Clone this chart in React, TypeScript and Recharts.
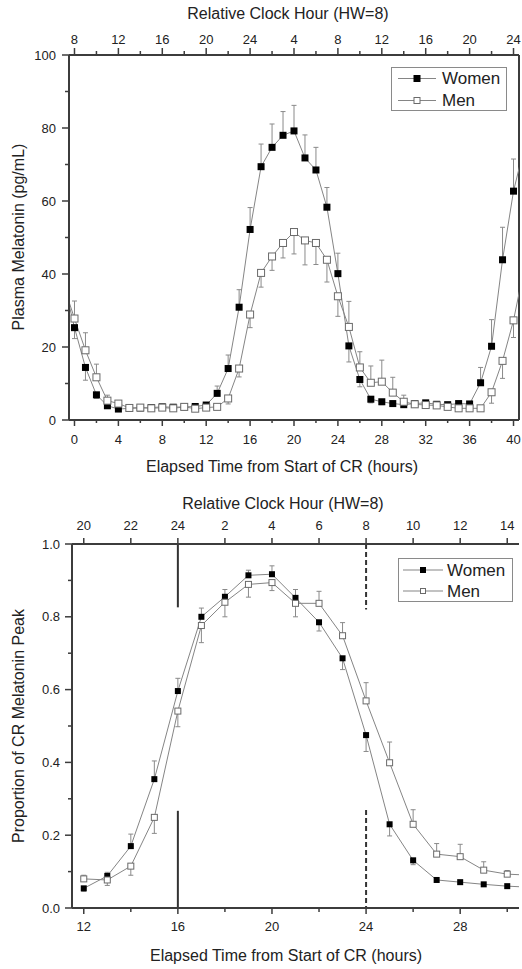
import React from 'react';
import { ComposedChart, Line, XAxis, YAxis, ErrorBar, ReferenceLine, Legend } from 'recharts';

const FONT = '"Liberation Sans", Arial, Helvetica, sans-serif';
const TEXT = '#222';
const AXIS = '#3c3c3c';
const LINE = '#858585';

// ---------- Top panel: plasma melatonin ----------
const elapsedHours = [-1, 0, 1, 2, 3, 4, 5, 6, 7, 8, 9, 10, 11, 12, 13, 14, 15, 16, 17, 18, 19, 20, 21, 22, 23, 24, 25, 26, 27, 28, 29, 30, 31, 32, 33, 34, 35, 36, 37, 38, 39, 40, 41];
const womenMelatonin = [38, 25.3, 14.4, 6.9, 3.9, 3.0, 3.2, 3.3, 3.4, 3.6, 3.5, 3.6, 3.7, 4.1, 7.3, 14.1, 30.9, 52.2, 69.4, 74.7, 78.0, 79.2, 71.8, 68.5, 58.3, 40.1, 20.3, 11.1, 5.7, 5.0, 4.5, 4.2, 4.5, 4.7, 4.3, 4.2, 4.5, 4.4, 10.2, 20.2, 43.9, 62.7, 75];
const menMelatonin = [37, 27.8, 19.1, 11.7, 5.3, 4.5, 3.3, 3.4, 3.2, 3.4, 3.2, 3.6, 3.1, 3.4, 3.6, 5.9, 14.1, 28.9, 40.3, 44.8, 48.5, 51.5, 49.2, 48.5, 43.9, 33.9, 25.5, 14.4, 10.2, 10.5, 7.5, 5.0, 4.3, 4.1, 4.0, 3.6, 3.2, 3.2, 3.2, 7.6, 16.2, 27.3, 42];
const womenMelatoninSem = [0, 3.0, 3.5, 1.0, 0.5, 0.5, 0.4, 0.4, 0.4, 0.4, 0.4, 0.4, 0.4, 0.4, 2.0, 3.7, 4.8, 6.0, 6.2, 6.4, 6.5, 7.0, 6.3, 6.2, 5.4, 5.6, 4.4, 2.0, 1.0, 0.8, 0.6, 0.5, 0.5, 0.5, 0.5, 0.5, 0.5, 0.5, 4.2, 7.3, 8.9, 8.8, 0];
const menMelatoninSem = [0, 4.8, 4.8, 3.6, 1.5, 0.8, 0.4, 0.4, 0.4, 0.4, 0.4, 0.4, 0.4, 0.4, 0.5, 1.5, 2.3, 3.6, 3.9, 3.8, 4.1, 6.0, 6.7, 5.9, 6.1, 5.5, 7.0, 4.3, 4.6, 5.9, 4.2, 1.8, 0.8, 0.5, 0.5, 0.5, 0.5, 0.5, 0.5, 3.0, 4.8, 4.7, 0];
const topElapsedTicks = [0, 2, 4, 6, 8, 10, 12, 14, 16, 18, 20, 22, 24, 26, 28, 30, 32, 34, 36, 38, 40];
const topClockLabels = ['8', '12', '16', '20', '24', '4', '8', '12', '16', '20', '24'];
const melatoninTicks = [0, 10, 20, 30, 40, 50, 60, 70, 80, 90, 100];

// ---------- Bottom panel: proportion of CR melatonin peak ----------
const peakHours = [12, 13, 14, 15, 16, 17, 18, 19, 20, 21, 22, 23, 24, 25, 26, 27, 28, 29, 30, 31];
const womenProportion = [0.054, 0.088, 0.170, 0.354, 0.596, 0.800, 0.855, 0.914, 0.917, 0.852, 0.785, 0.686, 0.475, 0.230, 0.131, 0.077, 0.071, 0.065, 0.060, 0.057];
const menProportion = [0.080, 0.077, 0.115, 0.249, 0.541, 0.776, 0.840, 0.889, 0.894, 0.837, 0.837, 0.748, 0.569, 0.399, 0.230, 0.148, 0.141, 0.104, 0.093, 0.090];
const womenProportionSem = [0.008, 0.010, 0.033, 0.050, 0.035, 0.024, 0.020, 0.014, 0.023, 0.023, 0.024, 0.031, 0.045, 0.032, 0.012, 0.005, 0.005, 0.005, 0.005, 0];
const menProportionSem = [0.010, 0.015, 0.025, 0.044, 0.043, 0.047, 0.040, 0.035, 0.022, 0.037, 0.033, 0.036, 0.050, 0.057, 0.040, 0.029, 0.034, 0.023, 0.010, 0];
const peakElapsedTicks = [12, 14, 16, 18, 20, 22, 24, 26, 28, 30];
const peakClockLabels = ['20', '22', '24', '2', '4', '6', '8', '10', '12', '14'];
const proportionTicks = [0, 0.1, 0.2, 0.3, 0.4, 0.5, 0.6, 0.7, 0.8, 0.9, 1.0];

// error bars are drawn on the outer side of each pair of points
const oneSided = (own: number[], other: number[], err: number[]) =>
  own.map((v, i) => (err[i] === 0 ? null : v >= other[i] ? [0, err[i]] : [err[i], 0]));

const topW = oneSided(womenMelatonin, menMelatonin, womenMelatoninSem);
const topM = oneSided(menMelatonin, womenMelatonin, menMelatoninSem);
const topData = elapsedHours.map((h, i) => ({
  h,
  women: womenMelatonin[i],
  men: menMelatonin[i],
  wErr: topW[i],
  mErr: topM[i],
}));

const botW = oneSided(womenProportion, menProportion, womenProportionSem);
const botM = oneSided(menProportion, womenProportion, menProportionSem);
const bottomData = peakHours.map((h, i) => ({
  h,
  women: womenProportion[i],
  men: menProportion[i],
  wErr: botW[i],
  mErr: botM[i],
}));

// ---------- rendering helpers ----------
const makeXTick = (
  side: 'top' | 'bottom',
  isMajor: (v: number) => boolean,
  label: (v: number) => string,
  majorLen: number,
  minorLen: number,
  gap: number
) => (props: any) => {
  const { x, y, payload } = props;
  const v = payload.value;
  const major = isMajor(v);
  const dir = side === 'top' ? -1 : 1;
  const len = major ? majorLen : minorLen;
  return (
    <g>
      <line x1={x} y1={y} x2={x} y2={y + dir * len} stroke={AXIS} strokeWidth={1.5} />
      {major && (
        <text x={x} y={y + dir * gap} textAnchor="middle" dominantBaseline="central" fontSize={13} fill={TEXT} fontFamily={FONT}>
          {label(v)}
        </text>
      )}
    </g>
  );
};

const makeYTick = (isMajor: (v: number) => boolean, label: (v: number) => string, gap: number) => (props: any) => {
  const { x, y, payload } = props;
  const v = payload.value;
  const major = isMajor(v);
  return (
    <g>
      <line x1={x} y1={y} x2={x - (major ? 7 : 4)} y2={y} stroke={AXIS} strokeWidth={1.5} />
      {major && (
        <text x={x - gap} y={y} textAnchor="end" dominantBaseline="central" fontSize={13} fill={TEXT} fontFamily={FONT}>
          {label(v)}
        </text>
      )}
    </g>
  );
};

const titleText = (x: number, y: number, text: string, rotate = false) => () => (
  <text
    x={x}
    y={y}
    textAnchor="middle"
    dominantBaseline="central"
    fontSize={16}
    fill={TEXT}
    fontFamily={FONT}
    transform={rotate ? `rotate(-90 ${x} ${y})` : undefined}
  >
    {text}
  </text>
);

const filledSquare = (s: number) => (p: any) =>
  p.cx == null ? <g key={`f${p.index}`} /> : (
    <rect key={`f${p.index}`} x={p.cx - s / 2} y={p.cy - s / 2} width={s} height={s} fill="#000" />
  );
const openSquare = (s: number) => (p: any) =>
  p.cx == null ? <g key={`o${p.index}`} /> : (
    <rect key={`o${p.index}`} x={p.cx - s / 2 + 0.5} y={p.cy - s / 2 + 0.5} width={s - 1} height={s - 1} fill="#fff" stroke="#6a6a6a" strokeWidth={1} />
  );

const LegendBox = (o: { w: number; h: number; lx1: number; lx2: number; tx: number; r1: number; r2: number; ms: number }) => (
  <svg width={o.w} height={o.h} style={{ display: 'block' }}>
    <rect x={0.5} y={0.5} width={o.w - 1} height={o.h - 1} fill="#fff" stroke="#8a8a8a" strokeWidth={1} />
    <line x1={o.lx1} y1={o.r1} x2={o.lx2} y2={o.r1} stroke={LINE} strokeWidth={1} />
    <rect x={(o.lx1 + o.lx2) / 2 - o.ms / 2} y={o.r1 - o.ms / 2} width={o.ms} height={o.ms} fill="#000" />
    <text x={o.tx} y={o.r1} dominantBaseline="central" fontSize={17} fill={TEXT} fontFamily={FONT}>Women</text>
    <line x1={o.lx1} y1={o.r2} x2={o.lx2} y2={o.r2} stroke={LINE} strokeWidth={1} />
    <rect x={(o.lx1 + o.lx2) / 2 - o.ms / 2 + 0.5} y={o.r2 - o.ms / 2 + 0.5} width={o.ms - 1} height={o.ms - 1} fill="#fff" stroke="#6a6a6a" />
    <text x={o.tx} y={o.r2} dominantBaseline="central" fontSize={17} fill={TEXT} fontFamily={FONT}>Men</text>
  </svg>
);

export default function App() {
  const axisLine = { stroke: AXIS, strokeWidth: 2 };
  return (
    <div style={{ position: 'absolute', left: 0, top: 0, width: 522, height: 969, background: '#fff', fontFamily: FONT }}>
      <ComposedChart width={522} height={484} data={topData} margin={{ top: 0, right: 3, bottom: 0, left: 0 }}>
        <XAxis
          dataKey="h"
          type="number"
          domain={[-0.5, 40.5]}
          allowDataOverflow
          ticks={topElapsedTicks}
          interval={0}
          height={64}
          axisLine={axisLine}
          tickLine={false}
          tickSize={0}
          tickMargin={0}
          tick={makeXTick('bottom', (v) => v % 4 === 0, (v) => String(v), 6, 3, 19)}
          label={titleText(282, 466, 'Elapsed Time from Start of CR (hours)')}
        />
        <XAxis
          xAxisId="top"
          orientation="top"
          dataKey="h"
          type="number"
          domain={[-0.5, 40.5]}
          allowDataOverflow
          ticks={topElapsedTicks}
          interval={0}
          height={55}
          axisLine={axisLine}
          tickLine={false}
          tickSize={0}
          tickMargin={0}
          tick={makeXTick('top', (v) => v % 4 === 0, (v) => topClockLabels[v / 4], 7, 4, 16)}
          label={titleText(288, 13, 'Relative Clock Hour (HW=8)')}
        />
        <YAxis
          type="number"
          domain={[0, 100]}
          allowDataOverflow
          ticks={melatoninTicks}
          interval={0}
          width={69}
          axisLine={axisLine}
          tickLine={false}
          tickSize={0}
          tickMargin={0}
          tick={makeYTick((v) => v % 20 === 0, (v) => String(v), 13)}
          label={titleText(18, 237, 'Plasma Melatonin (pg/mL)', true)}
        />
        <ReferenceLine x={40.5} stroke={AXIS} strokeWidth={2} ifOverflow="visible" />
        <Line dataKey="women" stroke={LINE} strokeWidth={1} isAnimationActive={false} dot={filledSquare(7)} activeDot={false}>
          <ErrorBar dataKey="wErr" direction="y" width={2.5} stroke="#8a8a8a" strokeWidth={1} isAnimationActive={false} />
        </Line>
        <Line dataKey="men" stroke={LINE} strokeWidth={1} isAnimationActive={false} dot={openSquare(8)} activeDot={false}>
          <ErrorBar dataKey="mErr" direction="y" width={2.5} stroke="#8a8a8a" strokeWidth={1} isAnimationActive={false} />
        </Line>
        <Legend
          layout="vertical"
          align="center"
          verticalAlign="middle"
          wrapperStyle={{ left: 391, top: 67, width: 116, height: 44 }}
          content={() => <LegendBox w={116} h={44} lx1={7} lx2={45} tx={51} r1={11.5} r2={33.5} ms={7} />}
        />
      </ComposedChart>

      <ComposedChart width={522} height={485} data={bottomData} margin={{ top: 0, right: 3, bottom: 0, left: 0 }}>
        <XAxis
          dataKey="h"
          type="number"
          domain={[11.5, 30.5]}
          allowDataOverflow
          ticks={peakElapsedTicks}
          interval={0}
          height={61}
          axisLine={axisLine}
          tickLine={false}
          tickSize={0}
          tickMargin={0}
          tick={makeXTick('bottom', (v) => v % 4 === 0, (v) => String(v), 6, 4, 18)}
          label={titleText(286, 471, 'Elapsed Time from Start of CR (hours)')}
        />
        <XAxis
          xAxisId="top"
          orientation="top"
          dataKey="h"
          type="number"
          domain={[11.5, 30.5]}
          allowDataOverflow
          ticks={peakElapsedTicks}
          interval={0}
          height={60}
          axisLine={axisLine}
          tickLine={false}
          tickSize={0}
          tickMargin={0}
          tick={makeXTick('top', () => true, (v) => peakClockLabels[(v - 12) / 2], 6, 6, 19)}
          label={titleText(283, 19, 'Relative Clock Hour (HW=8)')}
        />
        <YAxis
          type="number"
          domain={[0, 1]}
          allowDataOverflow
          ticks={proportionTicks}
          interval={0}
          width={72}
          axisLine={axisLine}
          tickLine={false}
          tickSize={0}
          tickMargin={0}
          tick={makeYTick((v) => Math.round(v * 10) % 2 === 0, (v) => v.toFixed(1), 12)}
          label={titleText(18, 242, 'Proportion of CR Melatonin Peak', true)}
        />
        <ReferenceLine segment={[{ x: 16, y: 1 }, { x: 16, y: 0.826 }]} stroke="#333" strokeWidth={2} ifOverflow="visible" />
        <ReferenceLine segment={[{ x: 16, y: 0.267 }, { x: 16, y: 0 }]} stroke="#333" strokeWidth={2} ifOverflow="visible" />
        <ReferenceLine segment={[{ x: 24, y: 1 }, { x: 24, y: 0.82 }]} stroke="#333" strokeWidth={2} strokeDasharray="5 3" ifOverflow="visible" />
        <ReferenceLine segment={[{ x: 24, y: 0.269 }, { x: 24, y: 0 }]} stroke="#333" strokeWidth={2} strokeDasharray="5 3" ifOverflow="visible" />
        <Line dataKey="women" stroke={LINE} strokeWidth={1} isAnimationActive={false} dot={filledSquare(6)} activeDot={false}>
          <ErrorBar dataKey="wErr" direction="y" width={2.5} stroke="#8a8a8a" strokeWidth={1} isAnimationActive={false} />
        </Line>
        <Line dataKey="men" stroke={LINE} strokeWidth={1} isAnimationActive={false} dot={openSquare(7)} activeDot={false}>
          <ErrorBar dataKey="mErr" direction="y" width={2.5} stroke="#8a8a8a" strokeWidth={1} isAnimationActive={false} />
        </Line>
        <Legend
          layout="vertical"
          align="center"
          verticalAlign="middle"
          wrapperStyle={{ left: 398, top: 74, width: 115, height: 44 }}
          content={() => <LegendBox w={115} h={44} lx1={5} lx2={45} tx={49} r1={12} r2={33} ms={6} />}
        />
      </ComposedChart>
    </div>
  );
}
